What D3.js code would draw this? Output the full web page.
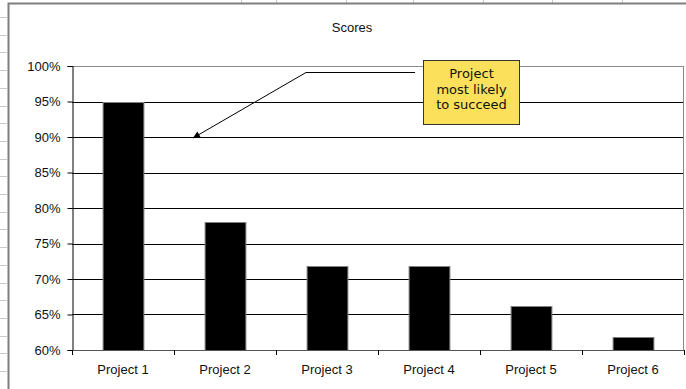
<!DOCTYPE html>
<html>
<head>
<meta charset="utf-8">
<script src="https://cdn.jsdelivr.net/npm/d3@7"></script>
<style>
  body { margin: 0; background: #fff; }
  #vis { width: 686px; height: 389px; }
  text { font-family: "Liberation Sans", Arial, sans-serif; }
</style>
</head>
<body>
<div id="vis"></div>
<script>
var projects = ['Project 1', 'Project 2', 'Project 3', 'Project 4', 'Project 5', 'Project 6'];
var scores = [0.95, 0.78, 0.718, 0.718, 0.662, 0.619];
var y_ticks = [0.60, 0.65, 0.70, 0.75, 0.80, 0.85, 0.90, 0.95, 1.00];
var callout_lines = ['Project', 'most likely', 'to succeed'];

var chart_data = projects.map(function(p, i) {
    return {key: p, value: scores[i]};
});

var width = 686, height = 389;

var margin = {top: 66, right: 2, bottom: 39, left: 72};

var svg = d3.select('#vis')
    .append('svg')
    .attr('width', width)
    .attr('height', height);

// spreadsheet bits behind the chart
var sheet = svg.append('g').attr('stroke', '#c8c8c8').attr('stroke-width', 1);
for (var r = 0; r < 22; r++) {
    var yy = Math.round(17 + r * 17.7) + 0.5;
    sheet.append('line').attr('x1', 0).attr('x2', 7).attr('y1', yy).attr('y2', yy);
}
[241, 276, 346, 413, 483, 552, 622].forEach(function(cx) {
    sheet.append('line').attr('x1', cx + 0.5).attr('x2', cx + 0.5).attr('y1', 0).attr('y2', 3);
});

// chart frame
svg.append('path')
    .attr('d', 'M8.5,' + height + 'V3.5H' + width)
    .attr('fill', 'none')
    .attr('stroke', '#7f7f7f')
    .attr('stroke-width', 2);

svg.append('text')
    .attr('x', 352)
    .attr('y', 32)
    .attr('text-anchor', 'middle')
    .style('font-size', '13px')
    .style('fill', '#111')
    .text('Scores');

var plot_w = width - margin.left - margin.right;
var plot_h = height - margin.top - margin.bottom;

var g = svg.append('g')
    .attr('transform', 'translate(' + margin.left + ',' + margin.top + ')');

var x_scale = d3.scaleBand()
    .domain(projects)
    .range([0, plot_w])
    .paddingInner(0.6)
    .paddingOuter(0.3);

var y_scale = d3.scaleLinear()
    .domain([0.6, 1])
    .range([plot_h, 0]);

var step = x_scale.step();

// gridlines
g.selectAll('.grid')
    .data(y_ticks.filter(function(d) { return d > 0.6; }))
    .enter()
    .append('line')
    .attr('class', 'grid')
    .attr('x1', 0)
    .attr('x2', plot_w)
    .attr('y1', function(d) { return Math.round(y_scale(d)) + 0.5; })
    .attr('y2', function(d) { return Math.round(y_scale(d)) + 0.5; })
    .attr('stroke', function(d) { return d >= 1 ? '#8a8a8a' : '#000'; });

// plot area right border
g.append('line')
    .attr('x1', plot_w - 0.5).attr('x2', plot_w - 0.5)
    .attr('y1', 0).attr('y2', plot_h)
    .attr('stroke', '#8a8a8a');

// bars
g.selectAll('.bar')
    .data(chart_data)
    .enter()
    .append('rect')
    .attr('class', 'bar')
    .attr('x', function(d) { return x_scale(d.key) + 0.5; })
    .attr('width', x_scale.bandwidth())
    .attr('y', function(d) { return Math.round(y_scale(d.value)) + 0.5; })
    .attr('height', function(d) { return plot_h - Math.round(y_scale(d.value)); })
    .attr('fill', '#000')
    .attr('stroke', '#808080');

// y axis
var y_axis = d3.axisLeft(y_scale)
    .tickValues(y_ticks)
    .tickSize(5)
    .tickPadding(7)
    .tickFormat(d3.format('.0%'));

var ya = g.append('g')
    .attr('transform', 'translate(0.5,0)')
    .call(y_axis);
ya.select('.domain').attr('stroke', '#000');
ya.selectAll('.tick line').attr('stroke', '#000');
ya.selectAll('.tick text')
    .style('font-size', '13px')
    .style('font-family', '"Liberation Sans", Arial, sans-serif')
    .attr('fill', '#111');

// x axis with ticks at category boundaries
g.append('line')
    .attr('x1', 0).attr('x2', plot_w)
    .attr('y1', plot_h + 0.5).attr('y2', plot_h + 0.5)
    .attr('stroke', '#555');

var bounds = projects.map(function(p) { return x_scale(p) - step * 0.3; });
bounds.push(plot_w);
g.selectAll('.xtick')
    .data(bounds)
    .enter()
    .append('line')
    .attr('class', 'xtick')
    .attr('x1', function(d) { return Math.round(d) + 0.5; })
    .attr('x2', function(d) { return Math.round(d) + 0.5; })
    .attr('y1', plot_h)
    .attr('y2', plot_h + 5)
    .attr('stroke', '#000');

g.selectAll('.xlabel')
    .data(projects)
    .enter()
    .append('text')
    .attr('class', 'xlabel')
    .attr('x', function(d) { return x_scale(d) + x_scale.bandwidth() / 2; })
    .attr('y', plot_h + 24)
    .attr('text-anchor', 'middle')
    .style('font-size', '13px')
    .style('fill', '#111')
    .text(function(d) { return d; });

// annotation arrow
svg.append('defs').append('marker')
    .attr('id', 'head')
    .attr('viewBox', '0 0 10 10')
    .attr('refX', 10).attr('refY', 5)
    .attr('markerWidth', 11).attr('markerHeight', 7)
    .attr('markerUnits', 'userSpaceOnUse')
    .attr('orient', 'auto')
    .append('path')
    .attr('d', 'M0,0L10,5L0,10Z')
    .attr('fill', '#000');

svg.append('path')
    .attr('d', 'M415,72.5H306L193,138')
    .attr('fill', 'none')
    .attr('stroke', '#000')
    .attr('stroke-width', 1)
    .attr('marker-end', 'url(#head)');

// callout box
svg.append('rect')
    .attr('x', 423.5).attr('y', 60.5)
    .attr('width', 96).attr('height', 64)
    .attr('fill', '#fbe05b')
    .attr('stroke', '#333');

svg.selectAll('.callout')
    .data(callout_lines)
    .enter()
    .append('text')
    .attr('class', 'callout')
    .attr('x', 471.5)
    .attr('y', function(d, i) { return 78 + i * 15.5; })
    .attr('text-anchor', 'middle')
    .style('font-family', 'Verdana, "DejaVu Sans", sans-serif')
    .style('font-size', '13px')
    .style('fill', '#111')
    .text(function(d) { return d; });
</script>
</body>
</html>
